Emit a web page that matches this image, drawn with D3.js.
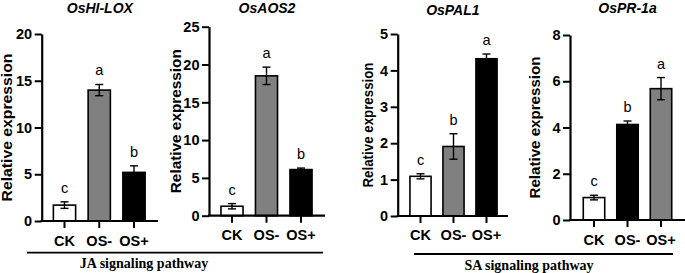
<!DOCTYPE html>
<html>
<head>
<meta charset="utf-8">
<script src="https://cdn.jsdelivr.net/npm/d3@7"></script>
<style>
  body { margin: 0; background: #fff; }
  svg { display: block; font-family: "Liberation Sans", Arial, sans-serif; }
</style>
</head>
<body>
<div id="chart"></div>
<script>
// data
const groups = ["CK", "OS-", "OS+"];
const genes = ["OsHI-LOX", "OsAOS2", "OsPAL1", "OsPR-1a"];
const meanLOX = [1.7, 14.0, 5.2];
const errLOX = [0.35, 0.6, 0.7];
const meanAOS = [1.25, 18.5, 6.1];
const errAOS = [0.35, 1.15, 0.2];
const meanPAL = [1.09, 1.91, 4.32];
const errPAL = [0.07, 0.35, 0.13];
const meanPR = [0.97, 4.13, 5.68];
const errPR = [0.1, 0.15, 0.48];
const lettersLOX = ["c", "a", "b"];
const lettersAOS = ["c", "a", "b"];
const lettersPAL = ["c", "b", "a"];
const lettersPR = ["c", "b", "a"];
const yMaxes = [20, 25, 5, 8];
const yTicks = [[0,5,10,15,20], [0,5,10,15,20,25], [0,1,2,3,4,5], [0,2,4,6,8]];
const pathways = ["JA signaling pathway", "SA signaling pathway"];

const means = [meanLOX, meanAOS, meanPAL, meanPR];
const errs = [errLOX, errAOS, errPAL, errPR];
const letters = [lettersLOX, lettersAOS, lettersPAL, lettersPR];

// layout of each panel (pixels)
const panels = [
  {ax: 41.7, top: 34,   zero: 221,   right: 158, c0: 64.5,  c2: 134,   ylab: 7.5, ylen: 148, titleY: 13, tickY: 246},
  {ax: 209,  top: 26.7, zero: 215.7, right: 325, c0: 232,   c2: 301,   ylab: 176, ylen: 144, titleY: 13, tickY: 240},
  {ax: 397.7, top: 34,  zero: 216,   right: 508, c0: 420.5, c2: 486.5, ylab: 368, ylen: 125, titleY: 15, tickY: 240},
  {ax: 570,  top: 35,   zero: 220,   right: 685, c0: 594,   c2: 661,   ylab: 535, ylen: 142, titleY: 13, tickY: 245}
];
const fills = [
  ["#fff", "#808080", "#000"],
  ["#fff", "#808080", "#000"],
  ["#fff", "#808080", "#000"],
  ["#fff", "#000", "#808080"]
];

const svg = d3.select("#chart").append("svg")
  .attr("width", 685).attr("height", 273);

panels.forEach((p, i) => {
  const step = (p.c2 - p.c0) / 2;
  const x = d3.scaleBand()
    .domain(groups)
    .range([p.c0 - step / 2, p.c2 + step / 2])
    .paddingInner(0.36).paddingOuter(0.18);
  const y = d3.scaleLinear().domain([0, yMaxes[i]]).range([p.zero, p.top]);

  const g = svg.append("g");

  // bars
  g.selectAll("rect.bar")
    .data(groups)
    .join("rect")
      .attr("class", "bar")
      .attr("x", d => x(d))
      .attr("width", x.bandwidth())
      .attr("y", (d, j) => y(means[i][j]))
      .attr("height", (d, j) => p.zero - y(means[i][j]))
      .attr("fill", (d, j) => fills[i][j])
      .attr("stroke", "#000")
      .attr("stroke-width", 1.6);

  // error bars
  const eb = g.selectAll("g.err")
    .data(groups)
    .join("g")
      .attr("class", "err")
      .attr("stroke", "#000")
      .attr("stroke-width", 1.4);
  const cx = d => x(d) + x.bandwidth() / 2;
  eb.append("line")
    .attr("x1", cx).attr("x2", cx)
    .attr("y1", (d, j) => y(means[i][j] - errs[i][j]))
    .attr("y2", (d, j) => y(means[i][j] + errs[i][j]));
  eb.append("line")
    .attr("x1", d => cx(d) - 4).attr("x2", d => cx(d) + 4)
    .attr("y1", (d, j) => y(means[i][j] + errs[i][j]))
    .attr("y2", (d, j) => y(means[i][j] + errs[i][j]));
  eb.append("line")
    .attr("x1", d => cx(d) - 4).attr("x2", d => cx(d) + 4)
    .attr("y1", (d, j) => y(means[i][j] - errs[i][j]))
    .attr("y2", (d, j) => y(means[i][j] - errs[i][j]));

  // significance letters
  g.selectAll("text.sig")
    .data(groups)
    .join("text")
      .attr("class", "sig")
      .attr("x", cx)
      .attr("y", (d, j) => y(means[i][j] + errs[i][j]) - 9)
      .attr("text-anchor", "middle")
      .style("font-size", "14.5px")
      .text((d, j) => letters[i][j]);

  // y axis (line and ticks from d3, labels drawn separately)
  const yAxis = g.append("g")
    .attr("transform", `translate(${p.ax},0)`)
    .call(d3.axisLeft(y).tickValues(yTicks[i]).tickFormat("")
      .tickSize(7).tickSizeOuter(0));
  yAxis.select(".domain").attr("stroke-width", 2.2);
  yAxis.selectAll(".tick line").attr("stroke-width", 2);

  g.selectAll("text.yl")
    .data(yTicks[i])
    .join("text")
      .attr("class", "yl")
      .attr("x", p.ax - 9.5)
      .attr("y", d => y(d))
      .attr("dy", "0.36em")
      .attr("text-anchor", "end")
      .style("font-size", "14.5px")
      .style("font-weight", "bold")
      .text(d => d);

  // x axis
  const xAxis = g.append("g")
    .attr("transform", `translate(0,${p.zero})`);
  xAxis.append("line")
    .attr("x1", p.ax - 1).attr("x2", p.right)
    .attr("stroke", "#000").attr("stroke-width", 2.2);
  xAxis.selectAll("line.tk")
    .data(groups)
    .join("line")
      .attr("class", "tk")
      .attr("x1", cx).attr("x2", cx)
      .attr("y1", 0).attr("y2", 7)
      .attr("stroke", "#000").attr("stroke-width", 2);
  g.selectAll("text.xl")
    .data(groups)
    .join("text")
      .attr("class", "xl")
      .attr("x", cx)
      .attr("y", p.tickY)
      .attr("text-anchor", "middle")
      .style("font-size", "14.5px")
      .style("font-weight", "bold")
      .text(d => d);

  // title
  g.append("text")
    .attr("x", (p.ax + p.right) / 2)
    .attr("y", p.titleY)
    .attr("text-anchor", "middle")
    .style("font-size", "14px")
    .style("font-weight", "bold")
    .style("font-style", "italic")
    .text(genes[i]);

  // y label
  g.append("text")
    .attr("transform", `translate(${p.ylab},${(p.top + p.zero) / 2}) rotate(-90)`)
    .attr("text-anchor", "middle")
    .attr("dy", "0.35em")
    .attr("textLength", p.ylen)
    .attr("lengthAdjust", "spacingAndGlyphs")
    .style("font-size", "14px")
    .style("font-weight", "bold")
    .text("Relative expression");
});

// pathway brackets
const brackets = [
  {x1: 27, x2: 323, y: 252.7, tx: 144, ty: 268},
  {x1: 414, x2: 673, y: 254, tx: 529, ty: 270}
];
brackets.forEach((b, i) => {
  svg.append("line")
    .attr("x1", b.x1).attr("x2", b.x2)
    .attr("y1", b.y).attr("y2", b.y)
    .attr("stroke", "#000").attr("stroke-width", 1.8);
  svg.append("text")
    .attr("x", b.tx).attr("y", b.ty)
    .attr("text-anchor", "middle")
    .style("font-family", "'Liberation Serif', 'Times New Roman', serif")
    .style("font-size", "14px")
    .style("font-weight", "bold")
    .text(pathways[i]);
});
</script>
</body>
</html>
